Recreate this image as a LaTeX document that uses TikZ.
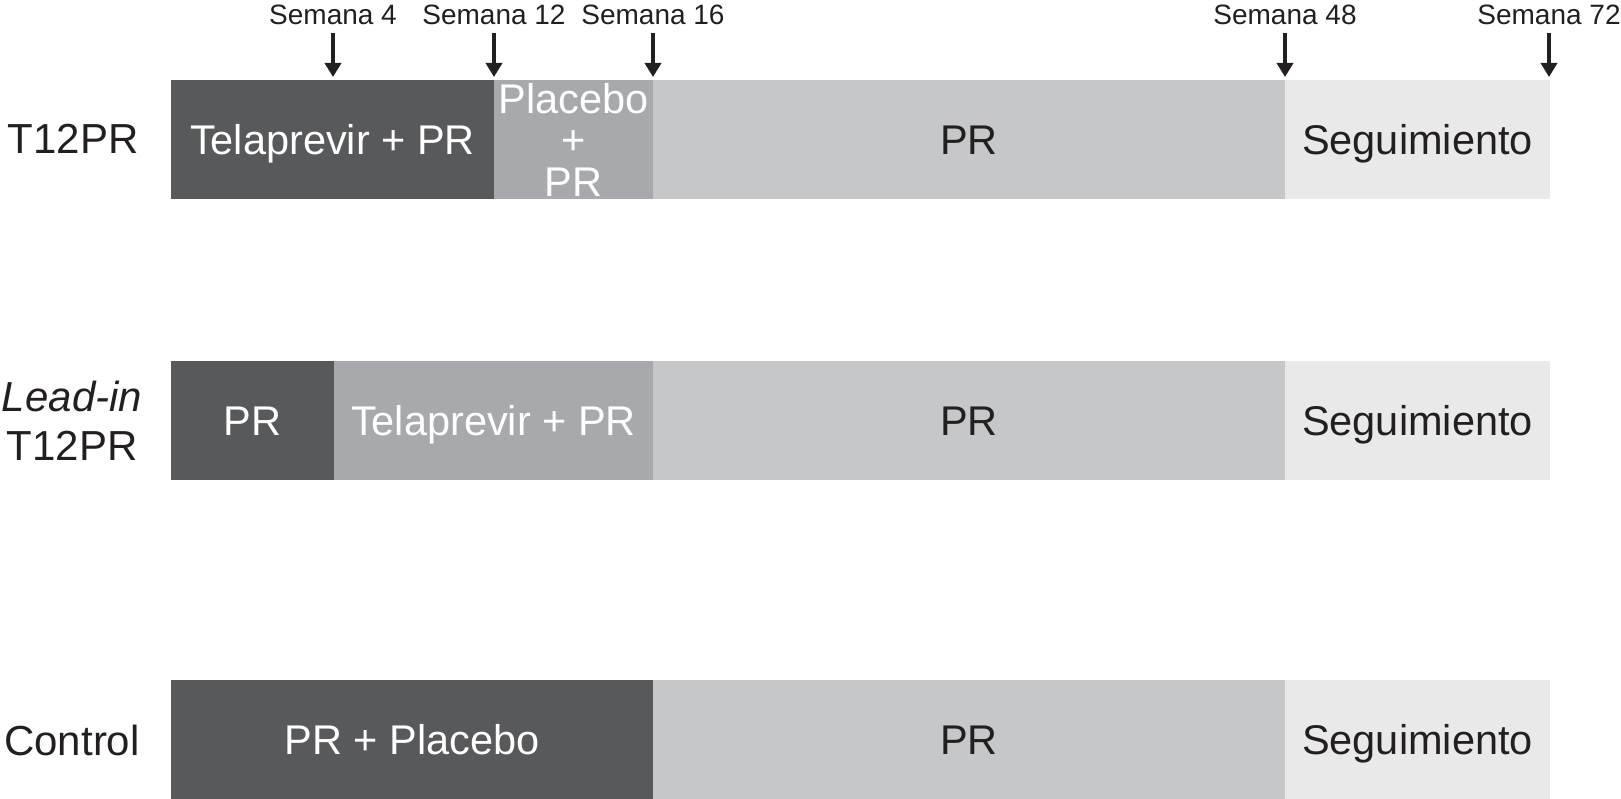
\documentclass[tikz,border=0pt]{standalone}
\usepackage{fontspec}
\setmainfont{Liberation Sans}
\usetikzlibrary{arrows.meta}
\definecolor{cdark}{HTML}{58595B}
\definecolor{cmid}{HTML}{A7A9AC}
\definecolor{clight}{HTML}{C6C7C9}
\definecolor{cfollow}{HTML}{E9E9EA}
\definecolor{ctext}{HTML}{231F20}
\tikzset{
  seg/.style={anchor=north west, inner sep=0pt, outer sep=0pt, minimum height=119pt,
    text height=29.5pt, text depth=0pt, font=\fontsize{41.5}{41.5}\selectfont},
  darkseg/.style={seg, fill=cdark, text=white},
  midseg/.style={seg, fill=cmid, text=white},
  lightseg/.style={seg, fill=clight, text=ctext},
  followseg/.style={seg, fill=cfollow, text=ctext},
  armlabel/.style={align=center, inner sep=0pt, text=ctext, font=\fontsize{42}{49}\selectfont},
  weeklabel/.style={anchor=base, inner sep=0pt, text=ctext, font=\fontsize{28}{30}\selectfont},
  weekarrow/.style={line width=3.5pt, ctext, -{Triangle[width=16pt,length=14pt]}},
}
\begin{document}
\begin{tikzpicture}[x=1pt,y=-1pt]
\useasboundingbox (0,0) rectangle (1621,799);
% Row 1: T12PR
\node[darkseg, minimum width=323pt] (r1a) at (171,80) {Telaprevir + PR};
\node[midseg, minimum width=159pt, text height=0pt] (r1b) at (494,80) {};
\node[lightseg, minimum width=632pt] (r1c) at (653,80) {PR};
\node[followseg, minimum width=265pt] (r1d) at (1285,80) {Seguimiento};
\node[align=center, inner sep=0pt, text=white, font=\fontsize{41.5}{41.5}\selectfont] (r1bt) at (r1b.center) {Placebo\\+\\PR};
% Row 2: Lead-in T12PR
\node[darkseg, minimum width=163pt] (r2a) at (171,361) {PR};
\node[midseg, minimum width=319pt] (r2b) at (334,361) {Telaprevir + PR};
\node[lightseg, minimum width=632pt] (r2c) at (653,361) {PR};
\node[followseg, minimum width=265pt] (r2d) at (1285,361) {Seguimiento};
% Row 3: Control
\node[darkseg, minimum width=482pt] (r3a) at (171,680) {PR + Placebo};
\node[lightseg, minimum width=632pt] (r3c) at (653,680) {PR};
\node[followseg, minimum width=265pt] (r3d) at (1285,680) {Seguimiento};
% Arm labels
\node[armlabel] (l1) at (73,139) {T12PR};
\node[armlabel] (l2) at (72,421) {\textit{Lead-in}\\T12PR};
\node[armlabel] (l3) at (72,740) {Control};
% Week labels and arrows
\node[weeklabel] (w4) at (333,25) {Semana 4};
\node[weeklabel] (w12) at (494,25) {Semana 12};
\node[weeklabel] (w16) at (653,25) {Semana 16};
\node[weeklabel] (w48) at (1285,25) {Semana 48};
\node[weeklabel] (w72) at (1549,25) {Semana 72};
\foreach \n/\x in {4/333,12/494,16/653,48/1285,72/1549}{
  \coordinate (s\n) at (\x,33);
  \coordinate (e\n) at (\x,77);
  \draw[weekarrow] (s\n) -- (e\n);
}
\end{tikzpicture}
\end{document}
